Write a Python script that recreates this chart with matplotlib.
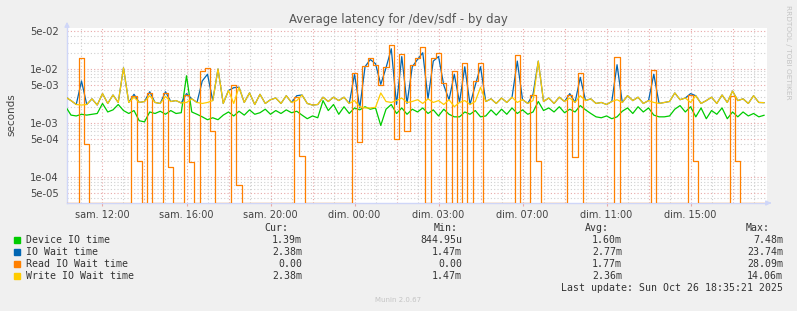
import numpy as np
import matplotlib
matplotlib.use("Agg")
import matplotlib.pyplot as plt

# Munin "Average latency for /dev/sdf - by day", values in milliseconds,
# one sample every 15 minutes, first sample 1.75 h before sat. 12:00
step_h = 0.25
start_h = -1.75

device_io = [
    2.0, 1.4, 1.35, 1.45, 1.4, 1.45, 1.5, 2.3, 1.6, 1.75,
    2.2, 1.7, 1.5, 1.7, 1.1, 1.05, 1.6, 1.5, 1.65, 1.45,
    1.7, 1.5, 1.55, 7.5, 1.6, 1.45, 1.3, 1.15, 1.25, 1.15,
    1.4, 1.6, 1.35, 1.65, 1.4, 1.75, 1.45, 1.55, 1.8, 1.45,
    1.7, 1.5, 1.75, 1.55, 1.65, 1.4, 1.2, 1.35, 1.25, 2.6,
    1.7, 2.2, 1.45, 2.0, 1.5, 1.9, 1.75, 2.0, 1.8, 1.9,
    0.9, 1.8, 2.2, 1.5, 1.9, 1.45, 1.8, 1.6, 1.9, 1.5,
    1.75, 1.35, 1.8, 1.45, 1.3, 1.3, 1.6, 1.45, 1.7, 1.3,
    1.35, 1.75, 1.4, 1.8, 1.45, 1.9, 1.5, 1.75, 1.45, 1.6,
    2.5, 1.7, 1.9, 1.6, 2.0, 1.55, 1.8, 1.6, 2.1, 1.75,
    1.5, 1.3, 1.25, 1.35, 1.2, 1.3, 1.65, 1.9, 1.5, 2.0,
    1.6, 1.9, 1.4, 1.3, 1.3, 1.35, 1.8, 2.1, 1.6, 2.0,
    1.3, 1.9, 1.2, 1.7, 1.45, 1.9, 1.2, 1.6, 1.3, 1.6,
    1.35, 1.5, 1.3, 1.39,
]

io_wait = [
    3.0, 2.6, 2.2, 6.0, 2.2, 2.8, 2.15, 3.5, 2.3, 3.3,
    2.4, 10.5, 2.4, 3.4, 2.4, 2.5, 3.8, 2.4, 2.3, 3.8,
    2.5, 2.6, 2.35, 3.5, 2.8, 2.4, 6.0, 8.0, 2.6, 10.0,
    2.3, 4.0, 4.5, 4.6, 2.4, 3.6, 2.2, 3.4, 2.3, 2.7,
    2.9, 2.3, 3.2, 2.4, 3.2, 3.3, 2.3, 2.15, 2.2, 3.0,
    2.5, 3.0, 2.6, 3.0, 2.3, 8.0, 1.9, 11.0, 15.0, 12.5,
    5.2, 10.5, 23.7, 2.2, 17.0, 2.3, 11.0, 15.0, 20.0, 2.8,
    14.0, 17.0, 5.0, 2.7, 8.0, 2.4, 11.0, 2.2, 5.0, 11.0,
    2.5, 2.8, 2.3, 2.9, 2.4, 3.0, 14.0, 2.7, 2.3, 3.4,
    14.0, 2.5, 2.9, 2.3, 3.0, 2.5, 3.5, 2.4, 7.0, 2.6,
    2.8, 2.3, 2.4, 2.2, 2.5, 12.0, 2.4, 3.2, 2.6, 3.0,
    2.3, 2.6, 8.0, 2.3, 2.4, 2.5, 3.6, 2.7, 2.9, 3.5,
    3.2, 2.3, 2.6, 3.0, 2.3, 3.3, 2.4, 3.9, 2.6, 2.8,
    2.3, 3.2, 2.4, 2.38,
]

read_io_wait = [
    0, 0, 0, 16.0, 0.4, 0, 0, 0, 0, 0,
    0, 0, 0, 3.2, 0.2, 0, 3.6, 0, 0, 3.6,
    0.15, 0, 0, 3.3, 0.19, 0, 9.0, 10.5, 0.7, 0,
    0, 0, 5.0, 0.07, 0, 0, 0, 0, 0, 0,
    0, 0, 0, 0, 3.0, 0.25, 0, 0, 0, 0,
    0, 0, 0, 0, 0, 8.4, 0.44, 11.5, 16.0, 12.0,
    5.0, 11.0, 28.0, 0.5, 19.0, 0.7, 12.0, 16.0, 25.0, 0,
    16.0, 20.0, 5.5, 0, 9.0, 0, 13.0, 0, 6.0, 13.0,
    0, 0, 0, 0, 0, 0, 18.0, 0, 0, 3.3,
    0.2, 0, 0, 0, 0, 0, 3.3, 0.23, 8.4, 0,
    0, 0, 0, 0, 0, 16.5, 0, 0, 0, 0,
    0, 0, 9.5, 0, 0, 0, 0, 0, 0, 3.3,
    0.2, 0, 0, 0, 0, 0, 0, 3.2, 0.2, 0,
    0, 0, 0, 0,
]

write_io_wait = [
    3.0, 2.6, 2.2, 2.15, 2.2, 2.8, 2.15, 3.5, 2.3, 3.3,
    2.4, 10.5, 2.4, 3.0, 2.4, 2.5, 3.2, 2.4, 2.3, 3.1,
    2.5, 2.6, 2.35, 2.4, 2.8, 2.4, 2.3, 2.4, 2.6, 10.0,
    2.3, 4.0, 2.3, 4.6, 2.4, 3.6, 2.2, 3.4, 2.3, 2.7,
    2.9, 2.3, 3.2, 2.4, 2.6, 3.3, 2.3, 2.15, 2.2, 3.0,
    2.5, 3.0, 2.6, 3.0, 2.3, 2.6, 2.0, 1.9, 1.9, 1.95,
    3.6, 2.5, 2.4, 2.6, 2.9, 2.4, 2.5, 2.7, 2.3, 2.8,
    2.4, 2.6, 2.2, 2.7, 2.0, 2.4, 2.6, 2.2, 2.5, 4.6,
    2.5, 2.8, 2.3, 2.9, 2.4, 3.0, 2.4, 2.7, 2.3, 2.6,
    14.0, 2.5, 2.9, 2.3, 3.0, 2.5, 2.9, 2.4, 3.2, 2.6,
    2.8, 2.3, 2.4, 2.2, 2.5, 2.7, 2.4, 3.2, 2.6, 3.0,
    2.3, 2.6, 2.4, 2.3, 2.4, 2.5, 3.6, 2.7, 2.9, 2.4,
    3.2, 2.3, 2.6, 3.0, 2.3, 3.3, 2.4, 3.9, 2.6, 2.8,
    2.3, 3.2, 2.4, 2.38,
]

series_names = ["Device IO time", "IO Wait time", "Read IO Wait time", "Write IO Wait time"]
series_colors = ["#00CC00", "#0066B3", "#FF8000", "#FFCC00"]
cur_vals = ["1.39m", "2.38m", "0.00", "2.38m"]
min_vals = ["844.95u", "1.47m", "0.00", "1.47m"]
avg_vals = ["1.60m", "2.77m", "1.77m", "2.36m"]
max_vals = ["7.48m", "23.74m", "28.09m", "14.06m"]

# tick labels every 4 real hours (DST ends at dim. 03:00)
xtick_hours = [0, 4, 8, 12, 16, 20, 24, 28]
xtick_labels = ["sam. 12:00", "sam. 16:00", "sam. 20:00", "dim. 00:00",
                "dim. 03:00", "dim. 07:00", "dim. 11:00", "dim. 15:00"]
ytick_vals = [5e-2, 1e-2, 5e-3, 1e-3, 5e-4, 1e-4, 5e-5]
ytick_labels = ["5e-02", "1e-02", "5e-03", "1e-03", "5e-04", "1e-04", "5e-05"]

W, H = 797, 311
bg = "#F0F0F0"
txt = "#444444"
axis_col = "#CFD6F8"
major_col = "#E8A8A8"
minor_col = "#CFCFCF"
ylo, yhi = 3.30e-5, 5.74e-2
xlo, xhi = -1.69, 31.64

def fx(px):
    return px / W

def fy(py):
    return 1 - py / H

fig = plt.figure(figsize=(W / 100, H / 100), dpi=100, facecolor=bg)
ax = fig.add_axes([fx(67), fy(203), 700 / W, 175 / H])
ax.set_facecolor("white")
ax.set_yscale("log")
ax.set_xlim(xlo, xhi)
ax.set_ylim(ylo, yhi)

# grid
for h in range(-1, 32):
    ax.axvline(h, color=major_col if h % 2 == 0 else minor_col,
               lw=0.8, ls=(0, (1, 2)), zorder=0)
for e in range(-5, -1):
    for m in range(1, 10):
        v = m * 10.0 ** e
        if ylo < v < yhi:
            ax.axhline(v, color=major_col if m in (1, 5) else minor_col,
                       lw=0.8, ls=(0, (1, 2)), zorder=0)

t = start_h + step_h * np.arange(len(device_io))
styles = ["default", "default", "steps-mid", "default"]
for vals, col, ds in zip([device_io, io_wait, read_io_wait, write_io_wait],
                         series_colors, styles):
    y = np.clip(np.array(vals) * 1e-3, ylo, None)
    ax.plot(t, y, color=col, lw=0.9, drawstyle=ds, zorder=3)

for s in ["top", "right"]:
    ax.spines[s].set_visible(False)
for s in ["left", "bottom"]:
    ax.spines[s].set_color(axis_col)
    ax.spines[s].set_linewidth(1)
ax.annotate("", xy=(0, 1 + 9 / 175), xytext=(0, 1), xycoords="axes fraction",
            arrowprops=dict(arrowstyle="-|>", color=axis_col, lw=1, mutation_scale=7),
            annotation_clip=False)
ax.annotate("", xy=(1 + 7 / 700, 0), xytext=(1, 0), xycoords="axes fraction",
            arrowprops=dict(arrowstyle="-|>", color=axis_col, lw=1, mutation_scale=7),
            annotation_clip=False)

ax.set_xticks(xtick_hours)
ax.set_xticklabels(xtick_labels)
ax.set_yticks(ytick_vals)
ax.set_yticklabels(ytick_labels)
ax.yaxis.set_minor_locator(matplotlib.ticker.NullLocator())
ax.tick_params(axis="x", length=2, color=major_col, labelsize=7, labelcolor=txt, pad=3)
ax.tick_params(axis="y", length=0, labelsize=7.2, labelcolor=txt, pad=6)

fig.text(fx(398), fy(19), "Average latency for /dev/sdf - by day", ha="center",
         va="center", fontsize=8.5, color="#555555")
fig.text(fx(11), fy(115), "seconds", rotation=90, ha="center", va="center",
         fontsize=7.5, color=txt)
fig.text(fx(788), fy(5), "RRDTOOL / TOBI OETIKER", rotation=270, ha="center",
         va="top", fontsize=5.3, color="#C4C4C4")
fig.text(fx(398), fy(300), "Munin 2.0.67", ha="center", va="center",
         fontsize=5, color="#C4C4C4")

# legend block
mono = dict(family="DejaVu Sans Mono", fontsize=7.15, color="#333333", va="center")
fig.text(fx(288), fy(228), "Cur:", ha="right", **mono)
fig.text(fx(458), fy(228), "Min:", ha="right", **mono)
fig.text(fx(609), fy(228), "Avg:", ha="right", **mono)
fig.text(fx(770), fy(228), "Max:", ha="right", **mono)
rows = [240, 252, 264, 276]
for i, ry in enumerate(rows):
    fig.patches.append(plt.Rectangle((fx(14), fy(ry + 3)), 6 / W, 6 / H,
                                     transform=fig.transFigure, color=series_colors[i]))
    fig.text(fx(26), fy(ry), series_names[i], ha="left", **mono)
    fig.text(fx(302), fy(ry), cur_vals[i], ha="right", **mono)
    fig.text(fx(462), fy(ry), min_vals[i], ha="right", **mono)
    fig.text(fx(622), fy(ry), avg_vals[i], ha="right", **mono)
    fig.text(fx(783), fy(ry), max_vals[i], ha="right", **mono)
fig.text(fx(783), fy(288), "Last update: Sun Oct 26 18:35:21 2025", ha="right", **mono)

fig.savefig("out.png", dpi=100, facecolor=bg)
